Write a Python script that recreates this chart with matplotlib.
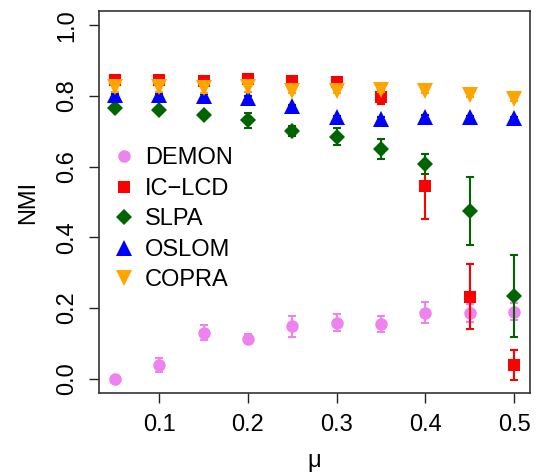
import matplotlib
matplotlib.use("Agg")
import matplotlib.pyplot as plt
import numpy as np

plt.rcParams['font.family'] = ['Liberation Sans', 'DejaVu Sans']

mu = [0.05, 0.10, 0.15, 0.20, 0.25, 0.30, 0.35, 0.40, 0.45, 0.50]

demon = [0.000, 0.039, 0.131, 0.114, 0.149, 0.159, 0.156, 0.187, 0.187, 0.190]
demon_err = [0.005, 0.020, 0.022, 0.012, 0.030, 0.023, 0.023, 0.030, 0.026, 0.024]

iclcd = [0.845, 0.845, 0.843, 0.847, 0.843, 0.838, 0.797, 0.544, 0.232, 0.039]
iclcd_err = [0.004, 0.004, 0.005, 0.005, 0.005, 0.010, 0.020, 0.092, 0.092, 0.042]

slpa = [0.766, 0.760, 0.746, 0.731, 0.701, 0.684, 0.650, 0.608, 0.475, 0.234]
slpa_err = [0.005, 0.006, 0.008, 0.022, 0.015, 0.024, 0.028, 0.028, 0.096, 0.117]

oslom = [0.802, 0.802, 0.800, 0.795, 0.771, 0.739, 0.736, 0.741, 0.739, 0.737]
oslom_err = [0.004, 0.004, 0.004, 0.005, 0.004, 0.004, 0.004, 0.004, 0.004, 0.004]

copra = [0.824, 0.824, 0.823, 0.824, 0.814, 0.814, 0.816, 0.814, 0.802, 0.790]
copra_err = [0.012, 0.012, 0.014, 0.012, 0.006, 0.006, 0.006, 0.005, 0.005, 0.005]

series = [
    ("DEMON", demon, demon_err, "#EE82EE", "o", 9.0),
    ("IC\u2212LCD", iclcd, iclcd_err, "#FF0000", "s", 8.0),
    ("SLPA", slpa, slpa_err, "#006400", "D", 8.5),
    ("OSLOM", oslom, oslom_err, "#0000FF", "^", 11.0),
    ("COPRA", copra, copra_err, "#FFA500", "v", 11.0),
]

fig = plt.figure(figsize=(5.4, 4.74), dpi=100)
ax = fig.add_axes([99/540, 1 - 393/474, (530-99)/540, (393-11)/474])

handles = []
for i, (name, vals, err, col, mk, ms) in enumerate(series):
    ax.errorbar(mu, vals, yerr=err, fmt='none', ecolor=col, elinewidth=1.5,
                capsize=3, capthick=1.5, zorder=2 + i)
    h = ax.plot(mu, vals, linestyle='none', marker=mk, color=col, markersize=ms,
                markeredgewidth=0, label=name, zorder=2 + i)[0]
    handles.append(h)

ax.set_xlim(0.032, 0.518)
ax.set_ylim(-0.04, 1.04)
ax.set_xticks([0.1, 0.2, 0.3, 0.4, 0.5])
ax.set_xticklabels(["0.1", "0.2", "0.3", "0.4", "0.5"])
ax.set_yticks([0.0, 0.2, 0.4, 0.6, 0.8, 1.0])
ax.set_yticklabels(["0.0", "0.2", "0.4", "0.6", "0.8", "1.0"], rotation=90, va='center')
ax.tick_params(axis='both', direction='out', length=7, width=1, labelsize=17, pad=8, colors='#222222')
ax.tick_params(axis='both', labelcolor='black')
for s in ax.spines.values():
    s.set_linewidth(1.2)
    s.set_color('#333333')

ax.set_xlabel("\u03bc", fontsize=17, labelpad=10)
ax.set_ylabel("NMI", fontsize=17, labelpad=12)

leg = ax.legend(handles=handles, loc='upper left', bbox_to_anchor=(0.0, 0.68),
                frameon=False, fontsize=17, handlelength=0.9, handletextpad=0.45,
                labelspacing=0.36, borderaxespad=0.3, borderpad=0.3)

fig.savefig("out.png", dpi=100)
